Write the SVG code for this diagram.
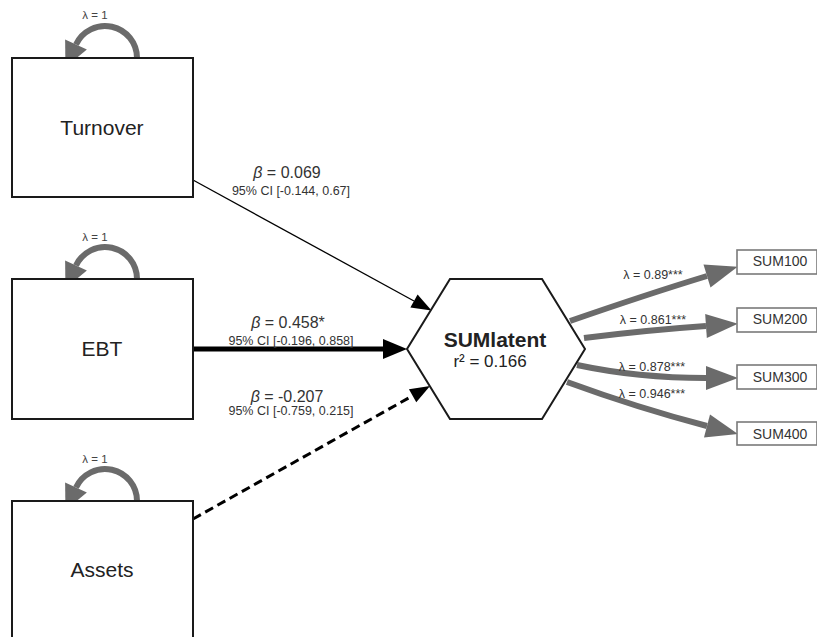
<svg xmlns="http://www.w3.org/2000/svg" width="817" height="637" viewBox="0 0 817 637">
  <style>
    text { font-family: "Liberation Sans", Arial, sans-serif; fill: #222; }
    .var { fill: #fff; stroke: #1a1a1a; stroke-width: 2; }
    .ind { fill: #fff; stroke: #7a7a7a; stroke-width: 1.6; }
    .nlab { font-size: 21px; text-anchor: middle; }
    .ilab { font-size: 14px; text-anchor: middle; fill: #333; }
    .beta { font-size: 16px; text-anchor: middle; fill: #333; }
    .ci { font-size: 12.5px; text-anchor: middle; fill: #333; }
    .lam { font-size: 12.5px; text-anchor: middle; fill: #333; }
    .loopl { font-size: 11.5px; text-anchor: middle; fill: #444; }
    .loop { fill: none; stroke: #6b6b6b; stroke-width: 6; marker-end: url(#greyLoop); }
    .load { fill: none; stroke: #6b6b6b; stroke-width: 6; marker-end: url(#greyBig); }
  </style>
  <defs>
    <marker id="greyLoop" markerUnits="userSpaceOnUse" markerWidth="26" markerHeight="24" refX="0" refY="12" orient="auto" overflow="visible">
      <path d="M0,0 L25,12 L0,24 Z" fill="#6b6b6b"/>
    </marker>
    <marker id="greyBig" markerUnits="userSpaceOnUse" markerWidth="34" markerHeight="26" refX="0" refY="13" orient="auto" overflow="visible">
      <path d="M0,1 L32,13 L0,25 Z" fill="#6b6b6b"/>
    </marker>
    <marker id="blackSmall" markerUnits="userSpaceOnUse" markerWidth="22" markerHeight="16" refX="0" refY="8" orient="auto" overflow="visible">
      <path d="M0,0.5 L20,8 L0,15.5 Z" fill="#000"/>
    </marker>
    <marker id="blackBig" markerUnits="userSpaceOnUse" markerWidth="26" markerHeight="20" refX="0" refY="10" orient="auto" overflow="visible">
      <path d="M0,0 L24,10 L0,20 Z" fill="#000"/>
    </marker>
  </defs>

  <g id="connectors">
    <!-- regressions onto the latent variable -->
    <line x1="193" y1="180" x2="414" y2="301" stroke="#000" stroke-width="1.3" marker-end="url(#blackSmall)"/>
    <line x1="193" y1="349" x2="383" y2="349" stroke="#000" stroke-width="5" marker-end="url(#blackBig)"/>
    <line x1="193" y1="519" x2="412.6" y2="395.8" stroke="#000" stroke-width="3" stroke-dasharray="9,5" marker-end="url(#blackSmall)"/>
    <!-- factor loadings -->
    <path class="load" d="M570,321 Q648,294 707,276"/>
    <path class="load" d="M584,338 Q648,330 706,326"/>
    <path class="load" d="M577,365 Q638,378 706,378"/>
    <path class="load" d="M567,382 Q638,408 707,426"/>
    <!-- fixed variances -->
    <path class="loop" d="M137,58 A32,32 0 0,0 76,44.5"/>
    <path class="loop" d="M137,279 A32,32 0 0,0 76,265.5"/>
    <path class="loop" d="M137,501 A32,32 0 0,0 76,487.5"/>
  </g>

  <g id="edge-labels">
    <text class="beta" x="287" y="178"><tspan font-style="italic">β</tspan> = 0.069</text>
    <text class="ci" x="291" y="195">95% CI [-0.144, 0.67]</text>
    <text class="beta" x="288" y="328"><tspan font-style="italic">β</tspan> = 0.458*</text>
    <text class="ci" x="291" y="345">95% CI [-0.196, 0.858]</text>
    <text class="beta" x="287" y="402"><tspan font-style="italic">β</tspan> = -0.207</text>
    <text class="ci" x="291" y="415">95% CI [-0.759, 0.215]</text>
    <text class="lam" x="653" y="279">λ = 0.89***</text>
    <text class="lam" x="653" y="324">λ = 0.861***</text>
    <text class="lam" x="652" y="371">λ = 0.878***</text>
    <text class="lam" x="652" y="398">λ = 0.946***</text>
    <text class="loopl" x="95" y="19">λ = 1</text>
    <text class="loopl" x="95" y="241">λ = 1</text>
    <text class="loopl" x="95" y="463">λ = 1</text>
  </g>

  <g id="Turnover">
    <rect class="var" x="12" y="58" width="181" height="139"/>
    <text class="nlab" x="102" y="135">Turnover</text>
  </g>
  <g id="EBT">
    <rect class="var" x="12" y="279" width="181" height="140"/>
    <text class="nlab" x="102" y="356">EBT</text>
  </g>
  <g id="Assets">
    <rect class="var" x="12" y="501" width="181" height="140"/>
    <text class="nlab" x="102" y="577">Assets</text>
  </g>

  <g id="SUMlatent">
    <polygon class="var" points="450,279 542,279 585,349 542,419 450,419 407,349"/>
    <text x="495" y="347" font-size="21" font-weight="bold" text-anchor="middle">SUMlatent</text>
    <text x="490" y="367" font-size="17" text-anchor="middle" fill="#333">r² = 0.166</text>
  </g>

  <g id="SUM100">
    <rect class="ind" x="737" y="250" width="80" height="24"/>
    <text class="ilab" x="780" y="266">SUM100</text>
  </g>
  <g id="SUM200">
    <rect class="ind" x="737" y="308" width="80" height="24"/>
    <text class="ilab" x="780" y="324">SUM200</text>
  </g>
  <g id="SUM300">
    <rect class="ind" x="737" y="365" width="80" height="24"/>
    <text class="ilab" x="780" y="382">SUM300</text>
  </g>
  <g id="SUM400">
    <rect class="ind" x="737" y="422" width="80" height="23"/>
    <text class="ilab" x="780" y="439">SUM400</text>
  </g>
</svg>
